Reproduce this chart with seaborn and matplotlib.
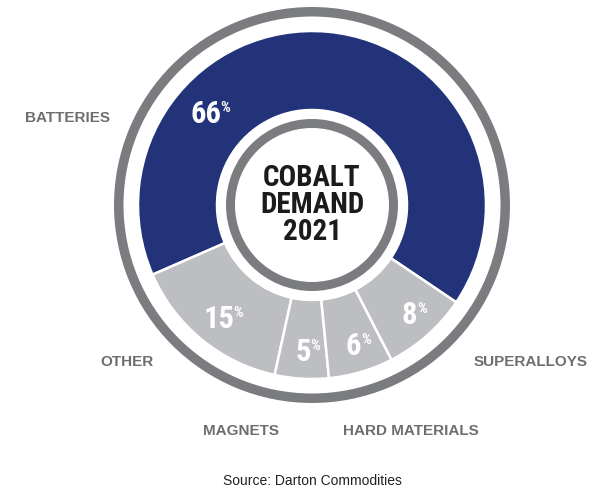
import matplotlib
matplotlib.use("Agg")
import matplotlib.pyplot as plt
from matplotlib import font_manager
from matplotlib.patches import Wedge
import numpy as np
import seaborn as sns

# Cobalt demand by end use, 2021 (share of total, %)
categories = ["BATTERIES", "OTHER", "MAGNETS", "HARD MATERIALS", "SUPERALLOYS"]
shares = [66, 15, 5, 6, 8]
source_note = "Source: Darton Commodities"
center_title = "COBALT\nDEMAND\n2021"

sns.set_theme(style="white")
plt.rcParams["font.family"] = ["Liberation Sans", "DejaVu Sans"]

# pick the narrowest installed face for the big figures
installed = {f.name for f in font_manager.fontManager.ttflist}
narrow_face = next((f for f in ["Liberation Sans Narrow", "Roboto Condensed", "Roboto"]
                    if f in installed), "DejaVu Sans")
NARROW = [narrow_face, "DejaVu Sans"]

NAVY = "#23337a"
LIGHT = "#bdbec2"
RING = "#7b7c7f"
LABEL = "#6d6e71"

W, H = 600, 488
fig = plt.figure(figsize=(W / 100, H / 100), dpi=100)
ax = fig.add_axes([0, 0, 1, 1])


def Y(y):
    """Convert a top-down pixel row into axes units."""
    return H - y


cx, cy = 312, Y(205)

# outer and inner grey rings
ax.add_patch(Wedge((cx, cy), 198, 0, 360, width=9.5, facecolor=RING, edgecolor="none"))
ax.add_patch(Wedge((cx, cy), 86, 0, 360, width=9, facecolor=RING, edgecolor="none"))

# donut of shares
colors = [NAVY] + [LIGHT] * (len(shares) - 1)
wedges, _ = ax.pie(
    shares,
    colors=colors,
    startangle=-34,
    counterclock=True,
    center=(cx, cy),
    radius=174,
    wedgeprops=dict(width=79, edgecolor="white", linewidth=1.8),
    frame=True,
)
ax.set_xlim(0, W)
ax.set_ylim(0, H)
ax.set_aspect("equal")
ax.set_axis_off()

# percentage labels inside wedges
angle_override = {0: 139.5}
for i, (w, v) in enumerate(zip(wedges, shares)):
    mid = angle_override.get(i, (w.theta1 + w.theta2) / 2)
    r = 140 if i == 0 else 147
    x = cx + r * np.cos(np.radians(mid))
    y = cy + r * np.sin(np.radians(mid))
    t = ax.text(x, y, f"{v}", ha="center", va="center", fontsize=22,
                fontweight="bold", color="white", family=NARROW)
    ax.annotate("%", xy=(0.97, 0.93), xycoords=t, ha="left", va="top",
                fontsize=11, fontweight="bold", color="white", family=NARROW)

# centre title
ax.text(cx, cy, center_title, ha="center", va="center", fontsize=21,
        fontweight="bold", color="#1b1b1b", linespacing=0.94, family=NARROW)

# category labels around the ring
label_pos = {
    "BATTERIES": (67, 118),
    "OTHER": (127, 362),
    "MAGNETS": (241, 431),
    "HARD MATERIALS": (411, 431),
    "SUPERALLOYS": (531, 362),
}
for name in categories:
    x, y = label_pos[name]
    ax.text(x, Y(y), name, ha="center", va="center", fontsize=11,
            fontweight="bold", color=LABEL)

ax.text(312, Y(481), source_note, ha="center", va="center", fontsize=10,
        color="#222222")

fig.savefig("out.png", dpi=100, facecolor="white")
